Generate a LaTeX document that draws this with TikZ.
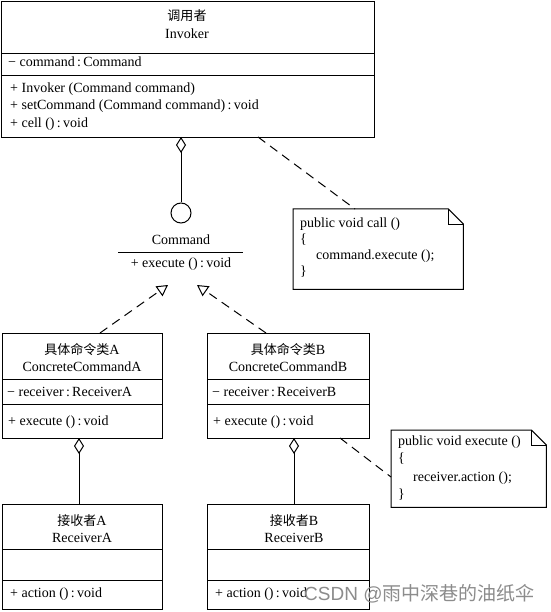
\documentclass[tikz,border=0pt]{standalone}
\usepackage{fontspec}
\setmainfont{Liberation Serif}
\newfontfamily\cjk[Scale=0.93]{Noto Sans CJK SC}
\newfontfamily\wmcjk{Noto Sans CJK SC}
\newfontfamily\wmfont{Liberation Sans}
\usetikzlibrary{arrows.meta}
\tikzset{
  txt/.style={font=\fontsize{14}{16}\selectfont, inner sep=0pt},
  ltxt/.style={txt, anchor=west},
  box/.style={draw, line width=1pt, anchor=north west, inner sep=0pt},
  rule/.style={line width=1pt},
  aggr/.style={line width=1pt, -{Diamond[open, length=16pt, width=10pt, line width=1pt]}},
  realize/.style={line width=1pt, dash pattern=on 9pt off 6pt, -{Triangle[open, length=11pt, width=12pt, line width=1pt]}},
  notelink/.style={line width=1pt, dash pattern=on 9pt off 6pt},
  notebox/.style={anchor=north west, inner sep=0pt},
  notedraw/.style={line width=1pt},
}
\begin{document}
\begin{tikzpicture}[x=1pt,y=-1pt]
\useasboundingbox (0,0) rectangle (550,612);
\fill[white] (0,0) rectangle (550,612);

% Invoker
\node[box, minimum width=373pt, minimum height=136pt] (inv) at (1,1) {};
\draw[rule] (1,54) -- (374,54);
\draw[rule] (1,76) -- (374,76);
\node[txt] (invcn) at (187,16) {\cjk 调用者};
\node[txt] (invn) at (187,34) {Invoker};
\node[ltxt] (inva) at (8,62) {− command\,:\,Command};
\node[ltxt] (invm1) at (10,89) {+ Invoker (Command command)};
\node[ltxt] (invm2) at (10,106) {+ setCommand (Command command)\,:\,void};
\node[ltxt] (invm3) at (10,124) {+ cell ()\,:\,void};

% Command interface
\node[draw, circle, line width=1pt, minimum size=20pt, inner sep=0pt] (cmdc) at (181,213) {};
\coordinate (invdia) at (181,137);
\draw[aggr] (cmdc) -- (invdia);
\node[txt] (cmdn) at (181,240) {Command};
\draw[rule] (118,252) -- (243,252);
\node[txt] (cmdm) at (181,264) {+ execute ()\,:\,void};
\coordinate (tipA) at (168,285);
\coordinate (tipB) at (197,285);

% Note 1
\node[notebox, minimum width=170pt, minimum height=80pt] (note1) at (293,209) {};
\draw[notedraw] (note1.north west) -- ([xshift=-15pt]note1.north east) -- ([yshift=-15pt]note1.north east) -- (note1.south east) -- (note1.south west) -- cycle;
\draw[notedraw] ([xshift=-15pt]note1.north east) -- ([xshift=-15pt,yshift=-15pt]note1.north east) -- ([yshift=-15pt]note1.north east);
\node[ltxt] (n1a) at (300,224) {public void call ()};
\node[ltxt] (n1b) at (300,240) {\{};
\node[ltxt] (n1c) at (316,256) {command.execute ();};
\node[ltxt] (n1d) at (300,272) {\}};
\coordinate (invnote) at (258,137);
\coordinate (note1top) at (355,209);
\draw[notelink] (invnote) -- (note1top);

% ConcreteCommandA
\node[box, minimum width=160pt, minimum height=105pt] (cca) at (2,333) {};
\draw[rule] (2,379) -- (162,379);
\draw[rule] (2,404) -- (162,404);
\node[txt] (ccacn) at (82,350) {{\cjk 具体命令类}A};
\node[txt] (ccan) at (82,367) {ConcreteCommandA};
\node[ltxt] (ccaa) at (7,392) {− receiver\,:\,ReceiverA};
\node[ltxt] (ccam) at (8,422) {+ execute ()\,:\,void};

% ConcreteCommandB
\node[box, minimum width=162pt, minimum height=105pt] (ccb) at (207,333) {};
\draw[rule] (207,379) -- (369,379);
\draw[rule] (207,404) -- (369,404);
\node[txt] (ccbcn) at (288,350) {{\cjk 具体命令类}B};
\node[txt] (ccbn) at (288,367) {ConcreteCommandB};
\node[ltxt] (ccba) at (212,392) {− receiver\,:\,ReceiverB};
\node[ltxt] (ccbm) at (213,422) {+ execute ()\,:\,void};

\coordinate (ccaTop) at (100,333);
\coordinate (ccbTop) at (266,333);
\draw[realize] (ccaTop) -- (tipA);
\draw[realize] (ccbTop) -- (tipB);

% ReceiverA
\node[box, minimum width=160pt, minimum height=105pt] (ra) at (2,504) {};
\draw[rule] (2,549) -- (162,549);
\draw[rule] (2,580) -- (162,580);
\node[txt] (racn) at (82,521) {{\cjk 接收者}A};
\node[txt] (ran) at (82,538) {ReceiverA};
\node[ltxt] (ram) at (10,594) {+ action ()\,:\,void};

% ReceiverB
\node[box, minimum width=162pt, minimum height=105pt] (rb) at (207,504) {};
\draw[rule] (207,549) -- (369,549);
\draw[rule] (207,580) -- (369,580);
\node[txt] (rbcn) at (294,521) {{\cjk 接收者}B};
\node[txt] (rbn) at (294,538) {ReceiverB};
\node[ltxt] (rbm) at (215,594) {+ action ()\,:\,void};

\coordinate (raTop) at (79,504);
\coordinate (ccaBot) at (79,438);
\coordinate (rbTop) at (294,504);
\coordinate (ccbBot) at (294,438);
\draw[aggr] (raTop) -- (ccaBot);
\draw[aggr] (rbTop) -- (ccbBot);

% Note 2
\node[notebox, minimum width=155pt, minimum height=77pt] (note2) at (391,430) {};
\draw[notedraw] (note2.north west) -- ([xshift=-15pt]note2.north east) -- ([yshift=-15pt]note2.north east) -- (note2.south east) -- (note2.south west) -- cycle;
\draw[notedraw] ([xshift=-15pt]note2.north east) -- ([xshift=-15pt,yshift=-15pt]note2.north east) -- ([yshift=-15pt]note2.north east);
\node[ltxt] (n2a) at (398,442) {public void execute ()};
\node[ltxt] (n2b) at (398,459) {\{};
\node[ltxt] (n2c) at (413,478) {receiver.action ();};
\node[ltxt] (n2d) at (398,495) {\}};
\coordinate (ccbnote) at (340,438);
\coordinate (note2left) at (391,477);
\draw[notelink] (ccbnote) -- (note2left);

% watermark
\node[anchor=west, inner sep=0pt, text=black!45, font=\fontsize{19}{21}\selectfont] (wm) at (304,594) {\wmfont CSDN @{\wmcjk 雨中深巷的油纸伞}};
\end{tikzpicture}
\end{document}
